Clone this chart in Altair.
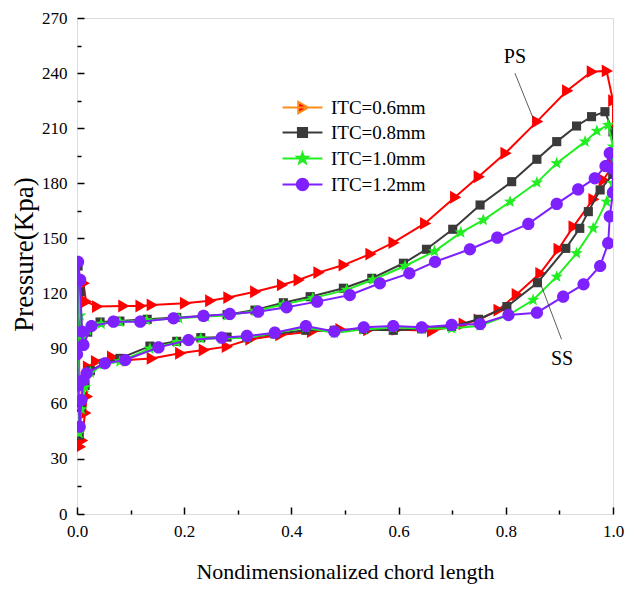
import altair as alt
import pandas as pd
import numpy as np

series_names = ["ITC=0.6mm", "ITC=0.8mm", "ITC=1.0mm", "ITC=1.2mm"]
series_colors = ["#ff0000", "#3a3a3a", "#22ee22", "#7f20ff"]
legend_line_colors = ["#ff8c1a", "#3a3a3a", "#22ee22", "#7f20ff"]

# Pressure side (leading edge -> trailing edge)
red_ps_x = [0.003, 0.012, 0.017, 0.037, 0.086, 0.118, 0.139, 0.201, 0.248, 0.282, 0.332, 0.382, 0.413, 0.450, 0.497, 0.547, 0.590, 0.649, 0.705, 0.749, 0.799, 0.858, 0.914, 0.960, 0.988, 1.000]
red_ps_y = [127.0, 125.6, 115.6, 112.9, 113.2, 113.2, 113.8, 114.7, 116.1, 117.8, 121.0, 124.7, 127.4, 131.4, 135.5, 141.5, 147.7, 158.2, 172.4, 183.6, 196.4, 213.6, 230.4, 240.8, 241.2, 225.0]
# Suction side (trailing edge -> leading edge)
red_ss_x = [1.000, 0.982, 0.963, 0.926, 0.898, 0.864, 0.820, 0.786, 0.749, 0.721, 0.662, 0.596, 0.543, 0.491, 0.438, 0.379, 0.323, 0.279, 0.236, 0.192, 0.139, 0.093, 0.065, 0.035, 0.020, 0.018, 0.015, 0.009, 0.005]
red_ss_y = [190.0, 181.8, 171.3, 156.4, 144.1, 131.0, 119.5, 111.0, 105.6, 103.5, 99.6, 100.5, 100.2, 100.5, 99.3, 97.5, 95.1, 91.1, 89.3, 87.5, 84.7, 83.8, 85.5, 83.0, 80.0, 64.0, 55.0, 40.0, 36.6]

black_ps_x = [0.002, 0.006, 0.010, 0.020, 0.043, 0.080, 0.131, 0.186, 0.236, 0.280, 0.332, 0.385, 0.435, 0.497, 0.550, 0.609, 0.652, 0.701, 0.752, 0.811, 0.858, 0.895, 0.932, 0.960, 0.985, 1.000]
black_ps_y = [135.0, 121.0, 92.0, 99.0, 104.5, 105.0, 106.0, 107.0, 107.8, 108.5, 111.0, 115.0, 118.3, 122.9, 128.3, 136.5, 144.1, 155.0, 168.2, 180.9, 193.1, 202.7, 211.2, 216.3, 219.0, 208.0]
black_ss_x = [1.000, 0.976, 0.954, 0.938, 0.912, 0.859, 0.802, 0.749, 0.699, 0.643, 0.590, 0.535, 0.480, 0.427, 0.369, 0.317, 0.280, 0.231, 0.186, 0.136, 0.080, 0.050, 0.025, 0.015, 0.008, 0.004]
black_ss_y = [185.0, 176.4, 164.6, 155.5, 144.6, 125.9, 112.9, 106.0, 102.0, 100.8, 100.0, 100.5, 100.0, 100.0, 98.0, 96.0, 96.3, 96.0, 94.0, 91.4, 84.7, 82.0, 78.0, 70.0, 58.0, 43.0]

green_ps_x = [0.002, 0.006, 0.010, 0.020, 0.045, 0.080, 0.130, 0.190, 0.240, 0.280, 0.332, 0.385, 0.440, 0.503, 0.552, 0.612, 0.667, 0.716, 0.758, 0.808, 0.858, 0.895, 0.948, 0.970, 0.991, 1.000]
green_ps_y = [126.0, 108.0, 96.0, 100.0, 103.5, 104.5, 105.5, 106.5, 107.5, 108.0, 110.5, 114.0, 117.5, 122.0, 127.5, 135.0, 143.0, 153.2, 160.0, 170.0, 180.4, 190.9, 202.7, 208.5, 211.8, 200.0]
green_ss_x = [1.000, 0.988, 0.963, 0.932, 0.895, 0.851, 0.805, 0.752, 0.699, 0.643, 0.590, 0.535, 0.480, 0.427, 0.369, 0.317, 0.270, 0.231, 0.186, 0.136, 0.080, 0.050, 0.025, 0.015, 0.008, 0.004]
green_ss_y = [180.0, 170.0, 155.5, 141.9, 129.2, 116.5, 108.3, 102.5, 101.0, 101.0, 101.5, 100.5, 98.5, 101.5, 98.5, 96.0, 95.5, 95.5, 93.5, 90.0, 83.0, 81.5, 77.0, 69.0, 57.0, 44.0]

purple_ps_x = [0.002, 0.006, 0.009, 0.012, 0.027, 0.068, 0.118, 0.180, 0.236, 0.285, 0.338, 0.391, 0.448, 0.509, 0.565, 0.620, 0.668, 0.733, 0.784, 0.842, 0.895, 0.935, 0.966, 0.986, 0.994, 1.000]
purple_ps_y = [137.3, 127.4, 99.3, 92.0, 102.3, 104.7, 104.7, 106.5, 107.8, 108.9, 110.1, 112.5, 115.6, 119.2, 125.6, 131.0, 137.3, 144.1, 150.4, 157.9, 168.8, 176.7, 182.7, 189.4, 196.4, 188.0]
purple_ss_x = [1.000, 0.994, 0.991, 0.976, 0.945, 0.907, 0.858, 0.805, 0.752, 0.699, 0.643, 0.590, 0.535, 0.480, 0.427, 0.369, 0.317, 0.270, 0.208, 0.152, 0.090, 0.052, 0.018, 0.012, 0.008, 0.005, 0.002, 0.000]
purple_ss_y = [175.0, 162.0, 147.4, 135.0, 125.0, 118.3, 109.6, 108.3, 103.4, 102.9, 101.6, 102.3, 101.6, 99.3, 102.3, 98.7, 96.9, 96.0, 94.7, 90.7, 83.8, 82.0, 76.6, 72.9, 62.0, 47.5, 70.0, 87.0]

# annotations
ann_text = ["PS", "SS"]
ann_x = [0.817, 0.905]
ann_y = [248.5, 84.5]
leader_x = [0.817, 0.867]
leader_x2 = [0.851, 0.904]
leader_y = [240.0, 123.7]
leader_y2 = [215.4, 95.1]

y_major = [0, 30, 60, 90, 120, 150, 180, 210, 240, 270]
y_minor = [15, 45, 75, 105, 135, 165, 195, 225, 255]
x_major = [0.0, 0.2, 0.4, 0.6, 0.8, 1.0]
x_minor = [0.1, 0.3, 0.5, 0.7, 0.9]

series_data = [
    (red_ss_x, red_ss_y, red_ps_x, red_ps_y),
    (black_ss_x, black_ss_y, black_ps_x, black_ps_y),
    (green_ss_x, green_ss_y, green_ps_x, green_ps_y),
    (purple_ss_x, purple_ss_y, purple_ps_x, purple_ps_y),
]

rows = []
for name, (ssx, ssy, psx, psy) in zip(series_names, series_data):
    xs = ssx + psx + [ssx[0]]
    ys = ssy + psy + [ssy[0]]
    for i, (xv, yv) in enumerate(zip(xs, ys)):
        rows.append({"series": name, "x": xv, "y": yv, "idx": i})
df = pd.DataFrame(rows)

ann_df = pd.DataFrame({"text": ann_text, "x": ann_x, "y": ann_y})
lead_df = pd.DataFrame({"x": leader_x, "x2": leader_x2, "y": leader_y, "y2": leader_y2})

# marker shapes (custom paths)
tri = "M-0.75,-1L1,0L-0.75,1Z"
sq = "M-0.8,-0.8L0.8,-0.8L0.8,0.8L-0.8,0.8Z"
pts = []
for k in range(10):
    r = 1.0 if k % 2 == 0 else 0.42
    a = -np.pi / 2 + k * np.pi / 5
    pts.append(f"{r*np.cos(a):.3f},{r*np.sin(a):.3f}")
star = "M" + "L".join(pts) + "Z"
circ = "M-1,0A1,1,0,1,0,1,0A1,1,0,1,0,-1,0Z"
marker_shapes = [tri, sq, star, circ]
marker_sizes = [165, 130, 170, 150]
line_seg = " M-3.5,0L3.5,0"
legend_shapes = [s + line_seg for s in marker_shapes]

FONT = "Liberation Serif"

xscale = alt.Scale(domain=[0, 1], nice=False, zero=False)
yscale = alt.Scale(domain=[0, 270], nice=False)

x_axis = alt.Axis(values=x_major, format=".1f", tickSize=7, offset=-7, domain=False, grid=False,
                  tickColor="black", tickWidth=1.5, labelFont=FONT, labelFontSize=17, labelColor="black",
                  labelPadding=9, labelFlush=False, title="Nondimensionalized chord length", titleFont=FONT,
                  titleFontSize=22, titleFontWeight="normal", titleColor="black",
                  titleX=268, titleY=64, titleBaseline="middle", titleAlign="center", orient="bottom")
y_axis = alt.Axis(values=y_major, tickSize=7, offset=-7, domain=False, grid=False,
                  tickColor="black", tickWidth=1.5, labelFont=FONT, labelFontSize=17, labelColor="black",
                  labelPadding=10, title="Pressure(Kpa)", titleFont=FONT, titleFontSize=27,
                  titleFontWeight="normal", titleColor="black", titleX=-60, titleY=236,
                  titleAlign="center", titleBaseline="middle", orient="left")
x_axis_minor = alt.Axis(values=x_minor, tickSize=4, offset=-4, domain=False, grid=False, labels=False,
                        tickColor="black", tickWidth=1.5, title=None, orient="bottom")
y_axis_minor = alt.Axis(values=y_minor, tickSize=4, offset=-4, domain=False, grid=False, labels=False,
                        tickColor="black", tickWidth=1.5, title=None, orient="left")

legend = alt.Legend(
    title=None, orient="none", legendX=216, legendY=80, padding=0,
    labelFont=FONT, labelFontSize=19, labelColor="black", labelOffset=19,
    symbolSize=130, symbolStrokeWidth=2, symbolOpacity=1, rowPadding=5,
)

base = alt.Chart(df)

leaders = alt.Chart(lead_df).mark_rule(color="#333333", strokeWidth=0.8).encode(
    x=alt.X("x:Q", scale=xscale, axis=x_axis_minor),
    y=alt.Y("y:Q", scale=yscale, axis=y_axis_minor),
    x2="x2:Q",
    y2="y2:Q",
)

series_layers = []
for k, (name, col, shp, sz) in enumerate(zip(series_names, series_colors, marker_shapes, marker_sizes)):
    sub = base.transform_filter(alt.datum.series == name)
    line = sub.mark_line(strokeWidth=2, clip=True, color=col).encode(
        x=alt.X("x:Q", scale=xscale, axis=x_axis if k == 0 else None),
        y=alt.Y("y:Q", scale=yscale, axis=y_axis if k == 0 else None),
        order="idx:Q",
    )
    pts_layer = sub.mark_point(filled=True, opacity=1, size=sz, clip=True, shape=shp, color=col).encode(
        x=alt.X("x:Q", scale=xscale, axis=None),
        y=alt.Y("y:Q", scale=yscale, axis=None),
    )
    series_layers += [line, pts_layer]

legend_layer = base.mark_point(opacity=0, size=130).encode(
    x=alt.X("x:Q", scale=xscale, axis=None),
    y=alt.Y("y:Q", scale=yscale, axis=None),
    stroke=alt.Stroke("series:N", scale=alt.Scale(domain=series_names, range=legend_line_colors), legend=legend),
    fill=alt.Fill("series:N", scale=alt.Scale(domain=series_names, range=series_colors), legend=legend),
    shape=alt.Shape("series:N", scale=alt.Scale(domain=series_names, range=legend_shapes), legend=legend),
)

labels = alt.Chart(ann_df).mark_text(font=FONT, fontSize=20, color="black").encode(
    x=alt.X("x:Q", scale=xscale, axis=None),
    y=alt.Y("y:Q", scale=yscale, axis=None),
    text="text:N",
)

chart = alt.layer(*series_layers, leaders, legend_layer, labels).resolve_axis(
    x="independent", y="independent"
).properties(
    width=536, height=496,
    padding={"left": 77, "top": 18, "right": 25, "bottom": 75},
    autosize=alt.AutoSizeParams(type="none"),
).configure_view(stroke="black", strokeWidth=1.8).configure(background="white")

chart.save("out.html", embed_options={"renderer": "svg", "actions": False})
